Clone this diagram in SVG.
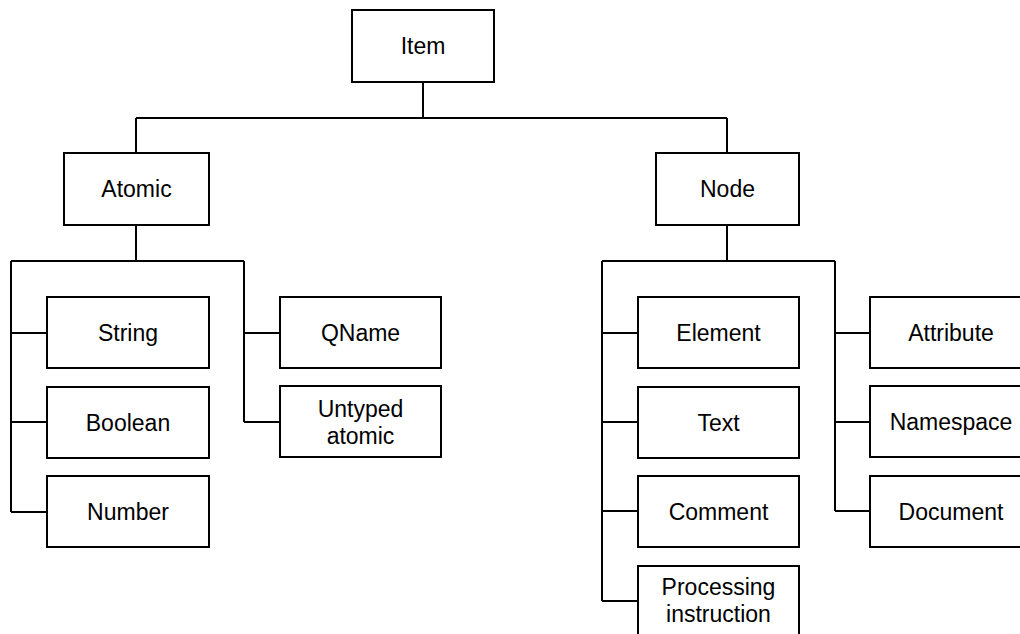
<svg xmlns="http://www.w3.org/2000/svg" width="1020" height="634" viewBox="0 0 1020 634">
  <style>
    .box { fill: #ffffff; stroke: #000000; stroke-width: 2; }
    .wire { fill: none; stroke: #000000; stroke-width: 2; }
    .lbl { font-family: "Liberation Sans", Arial, Helvetica, sans-serif; font-size: 23px; fill: #000000; text-anchor: middle; }
  </style>
  <rect width="1020" height="634" fill="#ffffff"/>

  <!-- connectors -->
  <g id="connectors" class="wire">
    <path d="M423 82 V118 M136 118 H727 M136 118 V153 M727 118 V153"/>
    <!-- atomic branch -->
    <path d="M136 225 V261 M11 261 H244"/>
    <path d="M11 261 V512 M11 333 H47 M11 422 H47 M11 512 H47"/>
    <path d="M244 261 V422 M244 333 H280 M244 422 H280"/>
    <!-- node branch -->
    <path d="M727 225 V261 M602 261 H835"/>
    <path d="M602 261 V601 M602 333 H638 M602 422 H638 M602 511 H638 M602 601 H638"/>
    <path d="M835 261 V511 M835 333 H870 M835 422 H870 M835 511 H870"/>
  </g>

  <g id="item"><rect class="box" x="352" y="10" width="142" height="72"/><text class="lbl" x="423" y="54">Item</text></g>

  <g id="atomic"><rect class="box" x="64" y="153" width="145" height="72"/><text class="lbl" x="136.5" y="197">Atomic</text></g>
  <g id="node"><rect class="box" x="656" y="153" width="143" height="72"/><text class="lbl" x="727.5" y="197">Node</text></g>

  <g id="string"><rect class="box" x="47" y="297" width="162" height="71"/><text class="lbl" x="128" y="340.5">String</text></g>
  <g id="boolean"><rect class="box" x="47" y="387" width="162" height="71"/><text class="lbl" x="128" y="430.5">Boolean</text></g>
  <g id="number"><rect class="box" x="47" y="476" width="162" height="71"/><text class="lbl" x="128" y="519.5">Number</text></g>

  <g id="qname"><rect class="box" x="280" y="297" width="161" height="71"/><text class="lbl" x="360.5" y="340.5">QName</text></g>
  <g id="untyped-atomic"><rect class="box" x="280" y="386" width="161" height="71"/><text class="lbl" x="360.5" y="416.5">Untyped</text><text class="lbl" x="360.5" y="444">atomic</text></g>

  <g id="element"><rect class="box" x="638" y="297" width="161" height="71"/><text class="lbl" x="718.5" y="340.5">Element</text></g>
  <g id="text"><rect class="box" x="638" y="387" width="161" height="71"/><text class="lbl" x="718.5" y="430.5">Text</text></g>
  <g id="comment"><rect class="box" x="638" y="476" width="161" height="71"/><text class="lbl" x="718.5" y="519.5">Comment</text></g>
  <g id="processing-instruction"><rect class="box" x="638" y="566" width="161" height="71"/><text class="lbl" x="718.5" y="594.5">Processing</text><text class="lbl" x="718.5" y="622">instruction</text></g>

  <g id="attribute"><rect class="box" x="870" y="297" width="162" height="71"/><text class="lbl" x="951" y="340.5">Attribute</text></g>
  <g id="namespace"><rect class="box" x="870" y="386" width="162" height="71"/><text class="lbl" x="951" y="430">Namespace</text></g>
  <g id="document"><rect class="box" x="870" y="476" width="162" height="71"/><text class="lbl" x="951" y="519.5">Document</text></g>
</svg>
